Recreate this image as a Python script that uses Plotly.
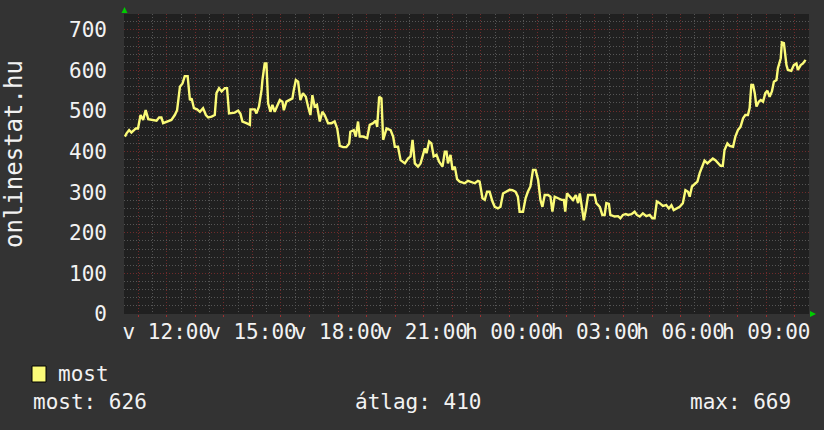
import plotly.graph_objects as go

# time in hours since Sunday 00:00 (v = vasárnap, h = hétfő)
times_h = [10.53, 10.59, 10.68, 10.76, 10.84, 10.91, 10.99, 11.08, 11.17, 11.26, 11.35, 11.46, 11.64, 11.73, 11.81, 11.87,
           12.05, 12.16, 12.28, 12.36, 12.46, 12.55, 12.63, 12.73, 12.81, 12.87, 12.95, 13.06, 13.16, 13.27, 13.37, 13.45,
           13.57, 13.68, 13.74, 13.83, 13.92, 14.03, 14.11, 14.18, 14.38, 14.50, 14.58, 14.65, 14.79, 14.91, 14.93, 15.08,
           15.14, 15.23, 15.32, 15.35, 15.43, 15.49, 15.55, 15.63, 15.70, 15.78, 15.86, 15.96, 16.05, 16.10, 16.19, 16.31,
           16.40, 16.45, 16.52, 16.60, 16.68, 16.77, 16.87, 16.95, 17.03, 17.10, 17.18, 17.26, 17.36, 17.45, 17.53, 17.65,
           17.77, 17.88, 17.97, 18.06, 18.18, 18.29, 18.39, 18.43, 18.55, 18.62, 18.70, 18.76, 18.88, 19.02, 19.11, 19.23,
           19.32, 19.37, 19.44, 19.52, 19.58, 19.70, 19.84, 19.93, 19.99, 20.10, 20.19, 20.34, 20.45, 20.54, 20.61, 20.69,
           20.80, 20.89, 20.96, 21.04, 21.10, 21.19, 21.27, 21.35, 21.45, 21.54, 21.66, 21.74, 21.80, 21.85, 21.94, 22.01,
           22.09, 22.17, 22.26, 22.44, 22.55, 22.67, 22.79, 22.90, 22.96, 23.06, 23.14, 23.22, 23.31, 23.41, 23.49, 23.60,
           23.69, 23.78, 23.90, 24.01, 24.11, 24.22, 24.30, 24.36, 24.48, 24.57, 24.65, 24.74, 24.83, 24.92, 25.01, 25.09,
           25.16, 25.24, 25.36, 25.44, 25.51, 25.59, 25.71, 25.83, 25.91, 25.96, 26.02, 26.14, 26.23, 26.33, 26.41, 26.47,
           26.56, 26.61, 26.68, 26.76, 26.91, 26.99, 27.05, 27.17, 27.26, 27.34, 27.40, 27.49, 27.54, 27.69, 27.81, 27.89,
           27.98, 28.08, 28.16, 28.28, 28.39, 28.47, 28.57, 28.68, 28.80, 28.92, 29.01, 29.09, 29.17, 29.27, 29.38, 29.50,
           29.59, 29.68, 29.76, 29.85, 29.97, 30.08, 30.17, 30.26, 30.32, 30.40, 30.49, 30.59, 30.67, 30.75, 30.84, 30.94,
           31.05, 31.13, 31.22, 31.31, 31.40, 31.48, 31.54, 31.64, 31.72, 31.84, 31.92, 32.01, 32.10, 32.19, 32.27, 32.36,
           32.42, 32.48, 32.54, 32.60, 32.66, 32.74, 32.81, 32.89, 32.97, 33.04, 33.12, 33.20, 33.27, 33.36, 33.41, 33.51,
           33.55, 33.62, 33.71, 33.76, 33.88, 33.97, 34.06, 34.11, 34.21, 34.29, 34.38]

most_values = [437, 445, 453, 447, 452, 457, 457, 490, 478, 502, 480, 478, 476, 484, 484, 470,
               474, 478, 490, 502, 560, 568, 586, 586, 527, 531, 507, 504, 498, 507, 490, 484,
               486, 490, 544, 556, 548, 556, 556, 494, 496, 501, 493, 474, 470, 466, 504, 504,
               494, 511, 552, 576, 617, 617, 519, 498, 515, 498, 511, 527, 523, 502, 523, 527,
               531, 552, 576, 572, 527, 544, 535, 511, 490, 539, 511, 515, 474, 498, 490, 470,
               470, 474, 457, 414, 411, 411, 420, 449, 453, 437, 474, 437, 437, 433, 466, 470,
               476, 461, 535, 531, 429, 457, 453, 437, 412, 412, 379, 371, 383, 388, 429, 371,
               363, 371, 388, 408, 396, 425, 420, 388, 392, 375, 363, 400, 400, 371, 392, 355,
               363, 332, 326, 322, 328, 324, 322, 328, 326, 285, 281, 301, 301, 277, 264, 260,
               264, 297, 301, 306, 305, 301, 289, 252, 252, 285, 301, 314, 355, 355, 330, 281,
               264, 293, 293, 289, 252, 289, 285, 281, 281, 252, 297, 289, 281, 293, 273, 297,
               252, 231, 256, 293, 293, 293, 273, 264, 244, 244, 273, 271, 244, 240, 241, 236,
               244, 246, 244, 246, 252, 244, 240, 248, 241, 244, 236, 236, 277, 273, 266, 268,
               260, 268, 256, 260, 264, 273, 305, 301, 289, 314, 320, 326, 347, 363, 378, 371,
               378, 383, 379, 371, 365, 365, 404, 420, 414, 412, 437, 453, 461, 482, 490, 490,
               507, 564, 564, 544, 511, 523, 527, 523, 544, 550, 535, 548, 572, 576, 605, 630,
               669, 667, 613, 601, 599, 613, 617, 601, 613, 617, 626]

hour_ticks = list(range(11, 35))
labelled_ticks = {12: "v 12:00", 15: "v 15:00", 18: "v 18:00", 21: "v 21:00",
                  24: "h 00:00", 27: "h 03:00", 30: "h 06:00", 33: "h 09:00"}
tick_texts = [labelled_ticks.get(h, "") for h in hour_ticks]

series_name = "most"
stat_labels = ["most: 626", "átlag: 410", "max: 669"]

BG = "#333333"
PLOT_BG = "#202020"
GRID_MINOR = "#555555"
GRID_MAJOR = "#702a2a"
LINE = "#fbfb78"
TXT = "#f2f2f2"
FONT = "DejaVu Sans Mono"

fig = go.Figure()
fig.add_trace(go.Scatter(x=times_h, y=most_values, mode="lines", name=series_name,
                         line=dict(color=LINE, width=2.4), showlegend=False))

fig.update_layout(
    width=824, height=430, autosize=False,
    margin=dict(l=124, r=15, t=14, b=116),
    paper_bgcolor=BG, plot_bgcolor=PLOT_BG,
    font=dict(family=FONT, size=21, color=TXT),
    xaxis=dict(range=[10.5, 34.5], tickmode="array", tickvals=hour_ticks, ticktext=tick_texts,
               tickangle=0, automargin=False,
               showgrid=True, gridcolor=GRID_MAJOR, griddash="1px,2px", gridwidth=1,
               ticks="outside", ticklen=2, tickcolor="#a03030", ticklabelstandoff=-3,
               minor=dict(dtick=0.5, tick0=0, showgrid=True, gridcolor=GRID_MINOR,
                          griddash="1px,2px", ticks=""),
               zeroline=False, showline=False, fixedrange=True,
               tickfont=dict(family=FONT, size=21, color=TXT)),
    yaxis=dict(range=[0, 738.9], dtick=100, tick0=0, automargin=False,
               showgrid=True, gridcolor=GRID_MAJOR, griddash="1px,2px", gridwidth=1,
               minor=dict(dtick=20, showgrid=True, gridcolor=GRID_MINOR, griddash="1px,2px"),
               ticks="", ticklabelstandoff=16, zeroline=False, showline=False, fixedrange=True,
               tickfont=dict(family=FONT, size=21, color=TXT)),
)

def px_x(px):
    return (px - 124) / 685.0

def px_y(py):
    return (314 - py) / 300.0

# y-axis title
fig.add_annotation(text="onlinestat.hu", textangle=-90, xref="paper", yref="paper",
                   x=px_x(14), y=px_y(154), showarrow=False,
                   font=dict(family=FONT, size=24, color=TXT), xanchor="center", yanchor="middle")

# legend swatch and label
fig.add_shape(type="rect", xref="paper", yref="paper", x0=px_x(32), x1=px_x(46), y0=px_y(382), y1=px_y(366),
              fillcolor=LINE, line=dict(color="#000000", width=1))
fig.add_annotation(text=series_name, xref="paper", yref="paper", x=px_x(56), y=px_y(374),
                   xanchor="left", yanchor="middle", showarrow=False)
fig.add_annotation(text=stat_labels[0], xref="paper", yref="paper", x=px_x(31), y=px_y(402),
                   xanchor="left", yanchor="middle", showarrow=False)
fig.add_annotation(text=stat_labels[1], xref="paper", yref="paper", x=px_x(353), y=px_y(402),
                   xanchor="left", yanchor="middle", showarrow=False)
fig.add_annotation(text=stat_labels[2], xref="paper", yref="paper", x=px_x(793), y=px_y(402),
                   xanchor="right", yanchor="middle", showarrow=False)

# green axis arrows
fig.add_shape(type="path", xref="paper", yref="paper",
              path=f"M {px_x(121.5)} {px_y(13)} L {px_x(127.5)} {px_y(13)} L {px_x(124.5)} {px_y(7)} Z",
              fillcolor="#00cc00", line=dict(color="#00cc00", width=0))
fig.add_shape(type="path", xref="paper", yref="paper",
              path=f"M {px_x(810)} {px_y(311)} L {px_x(810)} {px_y(317)} L {px_x(816)} {px_y(314)} Z",
              fillcolor="#00cc00", line=dict(color="#00cc00", width=0))

fig.write_html("out.html", config={"displayModeBar": False},
               post_script="document.body.style.margin='0px';")
